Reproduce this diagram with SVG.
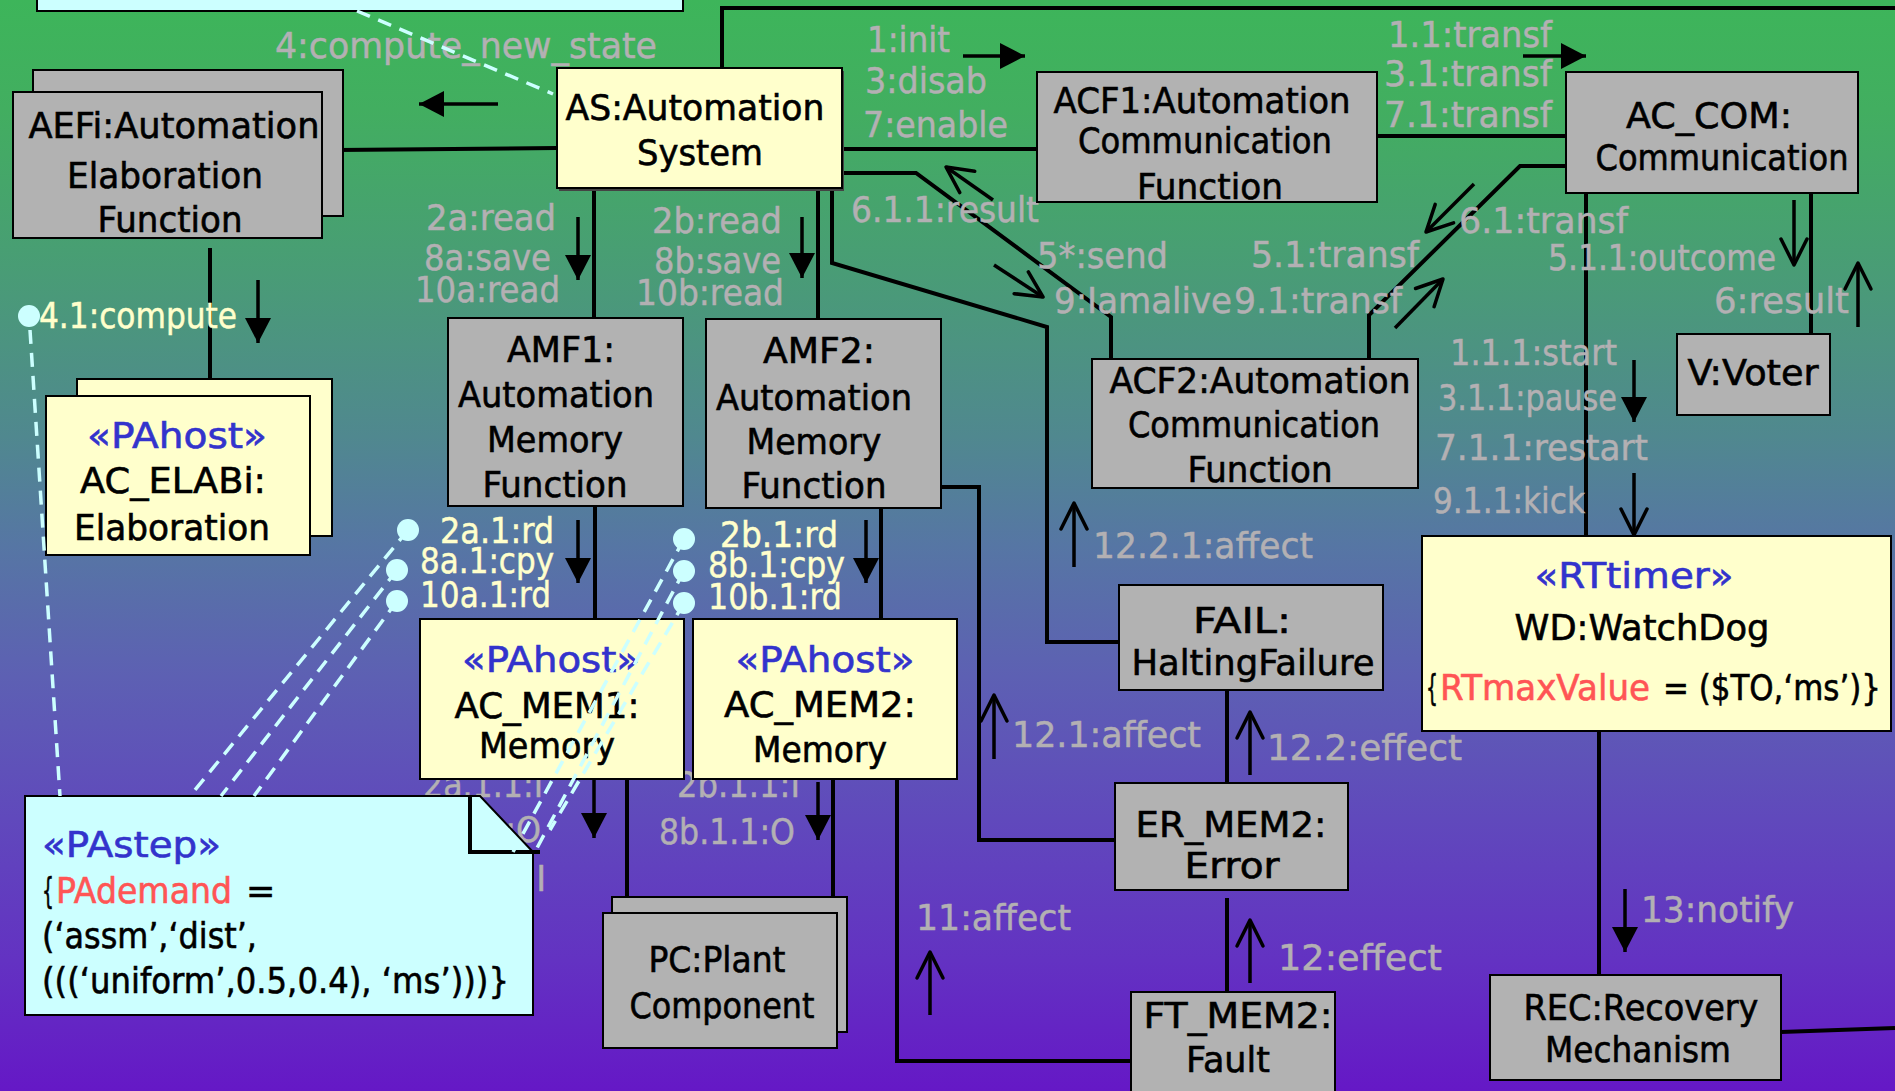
<svg xmlns="http://www.w3.org/2000/svg" width="1895" height="1091" viewBox="0 0 1895 1091">
  <style>
    .box-g { fill: #B2B2B2; stroke: #000; stroke-width: 2; }
    .box-y { fill: #FFFFCC; stroke: #000; stroke-width: 2; }
    .box-c { fill: #CCFFFF; stroke: #000; stroke-width: 2; }
    .t { font-family: "DejaVu Sans", "Liberation Sans", sans-serif; font-size: 35px; fill: #000; stroke: #000; stroke-width: 0.6px; text-anchor: middle; }
    .l { font-family: "DejaVu Sans", "Liberation Sans", sans-serif; font-size: 35px; fill: #B3B0B3; stroke: #B3B0B3; stroke-width: 0.5px; }
    .yl { fill: #FFFFCC; stroke: #FFFFCC; }
    .st { fill: #3333CC; stroke: #3333CC; }
    .red { fill: #FF5555; stroke: #FF5555; }
    .start { text-anchor: start; }
    .wire { fill: none; stroke: #000; stroke-width: 4; }
    .arr { fill: none; stroke: #000; stroke-width: 3.5; }
    .fa { marker-end: url(#fa); }
    .oa { marker-end: url(#oa); }
    .dash { fill: none; stroke: #CCFFFF; stroke-width: 3.5; stroke-dasharray: 14 9; }
    .dot { fill: #CCFFFF; }
  </style>
  <defs>
    <linearGradient id="bggrad" x1="0" y1="0" x2="0" y2="1">
      <stop offset="0" stop-color="#3DB55A"/>
      <stop offset="0.1" stop-color="#42AE60"/>
      <stop offset="0.25" stop-color="#499C76"/>
      <stop offset="0.4" stop-color="#50888F"/>
      <stop offset="0.5" stop-color="#5676A4"/>
      <stop offset="0.62" stop-color="#5D60B3"/>
      <stop offset="0.75" stop-color="#6049BC"/>
      <stop offset="0.88" stop-color="#6332C2"/>
      <stop offset="1" stop-color="#6518C6"/>
    </linearGradient>
    <marker id="fa" markerUnits="userSpaceOnUse" markerWidth="26" markerHeight="26" refX="25" refY="13" orient="auto" overflow="visible">
      <path d="M0,0 L25,13 L0,26 Z" fill="#000"/>
    </marker>
    <marker id="oa" markerUnits="userSpaceOnUse" markerWidth="28" markerHeight="28" refX="26" refY="13" orient="auto" overflow="visible">
      <path d="M0,0 L26,13 L0,26" fill="none" stroke="#000" stroke-width="3.5" stroke-linecap="round" stroke-linejoin="round"/>
    </marker>
  </defs>

  <rect x="0" y="0" width="1895" height="1091" fill="url(#bggrad)"/>

  <!-- solid links between objects -->
  <g id="connectors">
    <path class="wire" d="M338,150 L557,148"/>
    <path class="wire" d="M210,248 V379"/>
    <path class="wire" d="M722,68 V8 H1895"/>
    <path class="wire" d="M594,188 V318"/>
    <path class="wire" d="M818,188 V319"/>
    <path class="wire" d="M842,149 H1037"/>
    <path class="wire" d="M832,188 V263 L1047,327 V642 H1119"/>
    <path class="wire" d="M842,173 H916 L1111,317 V359"/>
    <path class="wire" d="M1377,136 H1566"/>
    <path class="wire" d="M1369,359 V315 L1520,166 H1566"/>
    <path class="wire" d="M1811,193 V334"/>
    <path class="wire" d="M1586,193 V536"/>
    <path class="wire" d="M1599,731 V975"/>
    <path class="wire" d="M1781,1032 L1895,1028"/>
    <path class="wire" d="M595,506 V619"/>
    <path class="wire" d="M881,508 V619"/>
    <path class="wire" d="M627,779 V897"/>
    <path class="wire" d="M833,779 V897"/>
    <path class="wire" d="M941,487 H979 V840 H1115"/>
    <path class="wire" d="M897,779 V1061 H1131"/>
    <path class="wire" d="M1227,690 V783"/>
    <path class="wire" d="M1227,898 V992"/>

    <!-- message arrows -->
    <path class="arr fa" d="M498,104 H419"/>
    <path class="arr fa" d="M258,280 V343"/>
    <path class="arr fa" d="M578,217 V280"/>
    <path class="arr fa" d="M802,217 V278"/>
    <path class="arr fa" d="M963,56 H1025"/>
    <path class="arr fa" d="M1523,56 H1586"/>
    <path class="arr fa" d="M578,520 V583"/>
    <path class="arr fa" d="M866,520 V583"/>
    <path class="arr fa" d="M594,780 V838"/>
    <path class="arr fa" d="M818,782 V840"/>
    <path class="arr fa" d="M1634,360 V422"/>
    <path class="arr fa" d="M1625,889 V952"/>
    <path class="arr oa" d="M993,200 L946,167"/>
    <path class="arr oa" d="M994,265 L1043,297"/>
    <path class="arr oa" d="M1474,184 L1426,232"/>
    <path class="arr oa" d="M1395,328 L1443,279"/>
    <path class="arr oa" d="M1794,200 V265"/>
    <path class="arr oa" d="M1858,327 V263"/>
    <path class="arr oa" d="M1634,473 V535"/>
    <path class="arr oa" d="M1074,567 V503"/>
    <path class="arr oa" d="M994,759 V695"/>
    <path class="arr oa" d="M1250,775 V712"/>
    <path class="arr oa" d="M1250,983 V920"/>
    <path class="arr oa" d="M930,1015 V952"/>

    <!-- message labels -->
    <text class="l" x="275" y="58" textLength="382" lengthAdjust="spacingAndGlyphs">4:compute_new_state</text>
    <text class="l" x="426" y="230" textLength="130" lengthAdjust="spacingAndGlyphs">2a:read</text>
    <text class="l" x="424" y="270" textLength="127" lengthAdjust="spacingAndGlyphs">8a:save</text>
    <text class="l" x="415" y="302" textLength="145" lengthAdjust="spacingAndGlyphs">10a:read</text>
    <text class="l" x="652" y="233" textLength="130" lengthAdjust="spacingAndGlyphs">2b:read</text>
    <text class="l" x="654" y="273" textLength="127" lengthAdjust="spacingAndGlyphs">8b:save</text>
    <text class="l" x="636" y="305" textLength="148" lengthAdjust="spacingAndGlyphs">10b:read</text>
    <text class="l" x="867" y="52" textLength="83" lengthAdjust="spacingAndGlyphs">1:init</text>
    <text class="l" x="865" y="93" textLength="122" lengthAdjust="spacingAndGlyphs">3:disab</text>
    <text class="l" x="863" y="137" textLength="145" lengthAdjust="spacingAndGlyphs">7:enable</text>
    <text class="l" x="851" y="222" textLength="188" lengthAdjust="spacingAndGlyphs">6.1.1:result</text>
    <text class="l" x="1037" y="268" textLength="131" lengthAdjust="spacingAndGlyphs">5*:send</text>
    <text class="l" x="1054" y="313" textLength="178" lengthAdjust="spacingAndGlyphs">9:Iamalive</text>
    <text class="l" x="1234" y="313" textLength="168" lengthAdjust="spacingAndGlyphs">9.1:transf</text>
    <text class="l" x="1251" y="267" textLength="168" lengthAdjust="spacingAndGlyphs">5.1:transf</text>
    <text class="l" x="1459" y="233" textLength="169" lengthAdjust="spacingAndGlyphs">6.1:transf</text>
    <text class="l" x="1388" y="47" textLength="164" lengthAdjust="spacingAndGlyphs">1.1:transf</text>
    <text class="l" x="1384" y="86" textLength="168" lengthAdjust="spacingAndGlyphs">3.1:transf</text>
    <text class="l" x="1384" y="127" textLength="168" lengthAdjust="spacingAndGlyphs">7.1:transf</text>
    <text class="l" x="1548" y="270" textLength="228" lengthAdjust="spacingAndGlyphs">5.1.1:outcome</text>
    <text class="l" x="1714" y="313" textLength="135" lengthAdjust="spacingAndGlyphs">6:result</text>
    <text class="l" x="1450" y="365" textLength="167" lengthAdjust="spacingAndGlyphs">1.1.1:start</text>
    <text class="l" x="1438" y="410" textLength="179" lengthAdjust="spacingAndGlyphs">3.1.1:pause</text>
    <text class="l" x="1435" y="460" textLength="213" lengthAdjust="spacingAndGlyphs">7.1.1:restart</text>
    <text class="l" x="1433" y="513" textLength="152" lengthAdjust="spacingAndGlyphs">9.1.1:kick</text>
    <text class="l" x="1641" y="922" textLength="153" lengthAdjust="spacingAndGlyphs">13:notify</text>
    <text class="l" x="1093" y="558" textLength="220" lengthAdjust="spacingAndGlyphs">12.2.1:affect</text>
    <text class="l" x="1012" y="747" textLength="189" lengthAdjust="spacingAndGlyphs">12.1:affect</text>
    <text class="l" x="1267" y="760" textLength="195" lengthAdjust="spacingAndGlyphs">12.2:effect</text>
    <text class="l" x="1278" y="970" textLength="164" lengthAdjust="spacingAndGlyphs">12:effect</text>
    <text class="l" x="916" y="930" textLength="155" lengthAdjust="spacingAndGlyphs">11:affect</text>
    <text class="l" x="677" y="797" textLength="123" lengthAdjust="spacingAndGlyphs">2b.1.1:I</text>
    <text class="l" x="659" y="844" textLength="136" lengthAdjust="spacingAndGlyphs">8b.1.1:O</text>
    <text class="l" x="423" y="797" textLength="120" lengthAdjust="spacingAndGlyphs">2a.1.1:I</text>
    <text class="l" x="405" y="842" textLength="136" lengthAdjust="spacingAndGlyphs">8a.1.1:O</text>
    <text class="l" x="398" y="891" textLength="148" lengthAdjust="spacingAndGlyphs">10a.1.1:I</text>

    <text class="l yl" x="39" y="328" textLength="198" lengthAdjust="spacingAndGlyphs">4.1:compute</text>
    <text class="l yl" x="440" y="543" textLength="114" lengthAdjust="spacingAndGlyphs">2a.1:rd</text>
    <text class="l yl" x="420" y="573" textLength="134" lengthAdjust="spacingAndGlyphs">8a.1:cpy</text>
    <text class="l yl" x="420" y="607" textLength="131" lengthAdjust="spacingAndGlyphs">10a.1:rd</text>
    <text class="l yl" x="720" y="547" textLength="118" lengthAdjust="spacingAndGlyphs">2b.1:rd</text>
    <text class="l yl" x="708" y="577" textLength="137" lengthAdjust="spacingAndGlyphs">8b.1:cpy</text>
    <text class="l yl" x="708" y="609" textLength="134" lengthAdjust="spacingAndGlyphs">10b.1:rd</text>
  </g>

  <!-- objects -->
  <g id="cfg-note">
    <rect class="box-c" x="37" y="-20" width="646" height="31"/>
  </g>

  <g id="AEFi">
    <rect class="box-g" x="33" y="70" width="310" height="146"/>
    <rect class="box-g" x="13" y="92" width="309" height="146"/>
    <text class="t" x="174" y="138" textLength="291" lengthAdjust="spacingAndGlyphs">AEFi:Automation</text>
    <text class="t" x="165" y="188" textLength="196" lengthAdjust="spacingAndGlyphs">Elaboration</text>
    <text class="t" x="170" y="232" textLength="145" lengthAdjust="spacingAndGlyphs">Function</text>
  </g>

  <g id="AC_ELABi">
    <rect class="box-y" x="77" y="379" width="255" height="157"/>
    <rect class="box-y" x="46" y="396" width="264" height="159"/>
    <text class="t st" x="177" y="448" textLength="180" lengthAdjust="spacingAndGlyphs">«PAhost»</text>
    <text class="t" x="173" y="493" textLength="186" lengthAdjust="spacingAndGlyphs">AC_ELABi:</text>
    <text class="t" x="172" y="540" textLength="196" lengthAdjust="spacingAndGlyphs">Elaboration</text>
  </g>

  <g id="AS">
    <rect x="559" y="71" width="285" height="120" fill="#444"/>
    <rect class="box-y" x="557" y="68" width="285" height="120"/>
    <text class="t" x="695" y="120" textLength="259" lengthAdjust="spacingAndGlyphs">AS:Automation</text>
    <text class="t" x="700" y="165" textLength="126" lengthAdjust="spacingAndGlyphs">System</text>
  </g>

  <g id="AMF1">
    <rect class="box-g" x="448" y="318" width="235" height="188"/>
    <text class="t" x="561" y="362" textLength="108" lengthAdjust="spacingAndGlyphs">AMF1:</text>
    <text class="t" x="556" y="407" textLength="196" lengthAdjust="spacingAndGlyphs">Automation</text>
    <text class="t" x="555" y="452" textLength="136" lengthAdjust="spacingAndGlyphs">Memory</text>
    <text class="t" x="555" y="497" textLength="145" lengthAdjust="spacingAndGlyphs">Function</text>
  </g>

  <g id="AMF2">
    <rect class="box-g" x="706" y="319" width="235" height="189"/>
    <text class="t" x="819" y="363" textLength="112" lengthAdjust="spacingAndGlyphs">AMF2:</text>
    <text class="t" x="814" y="410" textLength="196" lengthAdjust="spacingAndGlyphs">Automation</text>
    <text class="t" x="814" y="454" textLength="135" lengthAdjust="spacingAndGlyphs">Memory</text>
    <text class="t" x="814" y="498" textLength="145" lengthAdjust="spacingAndGlyphs">Function</text>
  </g>

  <g id="ACF1">
    <rect class="box-g" x="1037" y="72" width="340" height="130"/>
    <text class="t" x="1202" y="113" textLength="297" lengthAdjust="spacingAndGlyphs">ACF1:Automation</text>
    <text class="t" x="1205" y="153" textLength="254" lengthAdjust="spacingAndGlyphs">Communication</text>
    <text class="t" x="1210" y="199" textLength="146" lengthAdjust="spacingAndGlyphs">Function</text>
  </g>

  <g id="AC_COM">
    <rect class="box-g" x="1566" y="72" width="292" height="121"/>
    <text class="t" x="1709" y="128" textLength="166" lengthAdjust="spacingAndGlyphs">AC_COM:</text>
    <text class="t" x="1722" y="170" textLength="253" lengthAdjust="spacingAndGlyphs">Communication</text>
  </g>

  <g id="ACF2">
    <rect class="box-g" x="1092" y="359" width="326" height="129"/>
    <text class="t" x="1260" y="393" textLength="301" lengthAdjust="spacingAndGlyphs">ACF2:Automation</text>
    <text class="t" x="1254" y="437" textLength="252" lengthAdjust="spacingAndGlyphs">Communication</text>
    <text class="t" x="1260" y="482" textLength="145" lengthAdjust="spacingAndGlyphs">Function</text>
  </g>

  <g id="V">
    <rect class="box-g" x="1677" y="334" width="153" height="81"/>
    <text class="t" x="1753" y="385" textLength="131" lengthAdjust="spacingAndGlyphs">V:Voter</text>
  </g>

  <g id="WD">
    <rect class="box-y" x="1422" y="536" width="469" height="195"/>
    <text class="t st" x="1634" y="588" textLength="199" lengthAdjust="spacingAndGlyphs">«RTtimer»</text>
    <text class="t" x="1642" y="640" textLength="255" lengthAdjust="spacingAndGlyphs">WD:WatchDog</text>
    <text class="t start" x="1426" y="700" textLength="12" lengthAdjust="spacingAndGlyphs">{</text>
    <text class="t start red" x="1440" y="700" textLength="210" lengthAdjust="spacingAndGlyphs">RTmaxValue</text>
    <text class="t start" x="1663" y="700" textLength="218" lengthAdjust="spacingAndGlyphs">= ($TO,‘ms’)}</text>
  </g>

  <g id="FAIL">
    <rect class="box-g" x="1119" y="585" width="264" height="105"/>
    <text class="t" x="1242" y="633" textLength="98" lengthAdjust="spacingAndGlyphs">FAIL:</text>
    <text class="t" x="1253" y="675" textLength="243" lengthAdjust="spacingAndGlyphs">HaltingFailure</text>
  </g>

  <g id="ER_MEM2">
    <rect class="box-g" x="1115" y="783" width="233" height="107"/>
    <text class="t" x="1231" y="837" textLength="191" lengthAdjust="spacingAndGlyphs">ER_MEM2:</text>
    <text class="t" x="1232" y="878" textLength="95" lengthAdjust="spacingAndGlyphs">Error</text>
  </g>

  <g id="FT_MEM2">
    <rect class="box-g" x="1131" y="992" width="204" height="110"/>
    <text class="t" x="1238" y="1028" textLength="189" lengthAdjust="spacingAndGlyphs">FT_MEM2:</text>
    <text class="t" x="1228" y="1072" textLength="84" lengthAdjust="spacingAndGlyphs">Fault</text>
  </g>

  <g id="REC">
    <rect class="box-g" x="1490" y="975" width="291" height="105"/>
    <text class="t" x="1641" y="1020" textLength="235" lengthAdjust="spacingAndGlyphs">REC:Recovery</text>
    <text class="t" x="1638" y="1062" textLength="186" lengthAdjust="spacingAndGlyphs">Mechanism</text>
  </g>

  <g id="PC">
    <rect class="box-g" x="612" y="897" width="235" height="135"/>
    <rect class="box-g" x="603" y="913" width="234" height="135"/>
    <text class="t" x="717" y="972" textLength="137" lengthAdjust="spacingAndGlyphs">PC:Plant</text>
    <text class="t" x="722" y="1018" textLength="185" lengthAdjust="spacingAndGlyphs">Component</text>
  </g>

  <g id="AC_MEM1">
    <rect class="box-y" x="420" y="619" width="264" height="160"/>
    <text class="t st" x="551" y="672" textLength="178" lengthAdjust="spacingAndGlyphs">«PAhost»</text>
    <text class="t" x="547" y="718" textLength="185" lengthAdjust="spacingAndGlyphs">AC_MEM1:</text>
    <text class="t" x="547" y="758" textLength="136" lengthAdjust="spacingAndGlyphs">Memory</text>
  </g>

  <g id="AC_MEM2">
    <rect class="box-y" x="693" y="619" width="264" height="160"/>
    <text class="t st" x="825" y="672" textLength="179" lengthAdjust="spacingAndGlyphs">«PAhost»</text>
    <text class="t" x="820" y="717" textLength="192" lengthAdjust="spacingAndGlyphs">AC_MEM2:</text>
    <text class="t" x="820" y="762" textLength="134" lengthAdjust="spacingAndGlyphs">Memory</text>
  </g>

  <g id="PAstep-note">
    <path class="box-c" d="M25,796 H480 L533,852 V1015 H25 Z"/>
    <path d="M470,796 V852 H540" fill="none" stroke="#000" stroke-width="4"/>
    <text class="t start st" x="42" y="857" textLength="179" lengthAdjust="spacingAndGlyphs">«PAstep»</text>
    <text class="t start" x="42" y="903" textLength="12" lengthAdjust="spacingAndGlyphs">{</text>
    <text class="t start red" x="56" y="903" textLength="176" lengthAdjust="spacingAndGlyphs">PAdemand</text>
    <text class="t start" x="246" y="903">=</text>
    <text class="t start" x="42" y="948" textLength="215" lengthAdjust="spacingAndGlyphs">(‘assm’,‘dist’,</text>
    <text class="t start" x="42" y="993" textLength="467" lengthAdjust="spacingAndGlyphs">(((‘uniform’,0.5,0.4), ‘ms’)))}</text>
  </g>

  <!-- dashed annotation links -->
  <g id="note-links">
    <path class="dash" d="M357,11 L553,94"/>
    <path class="dash" d="M30,330 L60,796"/>
    <path class="dash" d="M408,530 L190,796"/>
    <path class="dash" d="M397,570 L221,796"/>
    <path class="dash" d="M397,601 L254,796"/>
    <path class="dash" d="M684,539 L513,852"/>
    <path class="dash" d="M684,571 L537,848"/>
    <path class="dash" d="M684,603 L550,830"/>
    <circle class="dot" cx="29" cy="316" r="11"/>
    <circle class="dot" cx="408" cy="530" r="11"/>
    <circle class="dot" cx="397" cy="570" r="11"/>
    <circle class="dot" cx="397" cy="601" r="11"/>
    <circle class="dot" cx="684" cy="539" r="11"/>
    <circle class="dot" cx="684" cy="571" r="11"/>
    <circle class="dot" cx="684" cy="603" r="11"/>
  </g>
</svg>
